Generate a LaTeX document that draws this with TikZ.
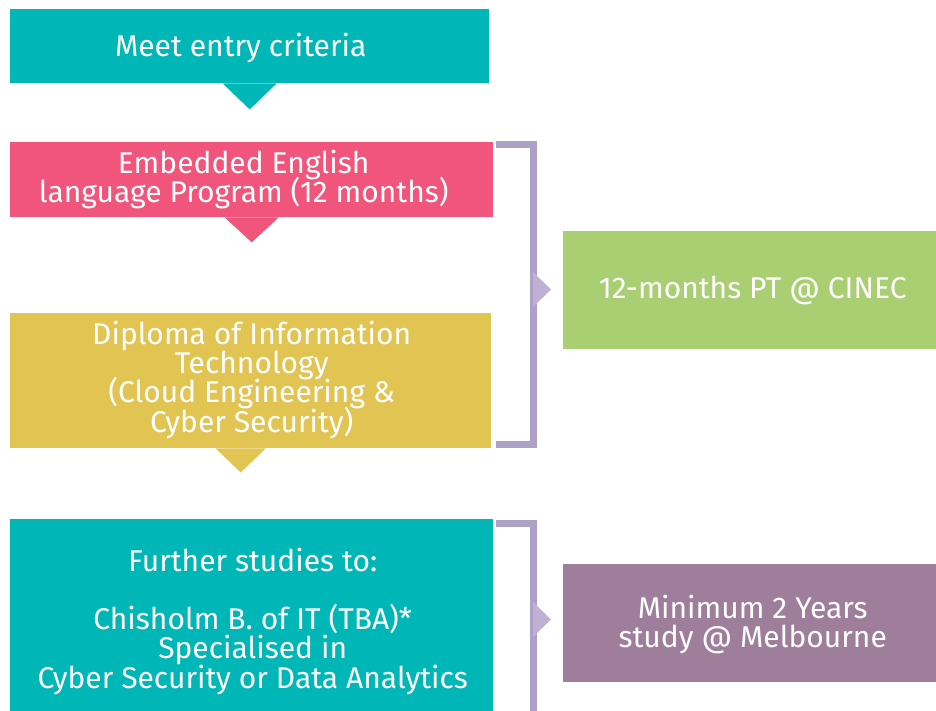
\documentclass[tikz,border=0pt]{standalone}
\usepackage{fontspec}
\setmainfont{Fira Sans}
\definecolor{tealc}{HTML}{00B6B6}
\definecolor{pinkc}{HTML}{F1557B}
\definecolor{yellowc}{HTML}{E2C453}
\definecolor{greenc}{HTML}{AACE72}
\definecolor{purplec}{HTML}{9E7E9B}
\definecolor{bracketc}{HTML}{ADA2C5}
\definecolor{pointerc}{HTML}{BFB1D6}
\newcommand\labfont{\fontsize{30}{29.3}\selectfont\lineskiplimit=-100pt\relax\lineskip=0pt\relax}
\begin{document}
\begin{tikzpicture}[x=1pt,y=-1pt,
  box/.style={anchor=north west, inner sep=0pt, fill=#1},
  label/.style={text=white, align=center, inner sep=0pt, font=\labfont},
  bracketline/.style={draw=bracketc, line width=7pt},
  pointer/.style={fill=pointerc}]
\useasboundingbox (0,0) rectangle (936,711);
\fill[white] (0,0) rectangle (936,711);
% left column
\node[box=tealc, minimum width=479pt, minimum height=74pt] (entry) at (10,9) {};
\node[label] (entryt) at ([xshift=-9pt,yshift=-2pt]entry.center) {Meet entry criteria};
\node[box=pinkc, minimum width=483pt, minimum height=75pt] (english) at (10,142) {};
\node[label] (englisht) at ([xshift=-8pt]english.center) {Embedded English\\language Program (12 months)};
\node[box=yellowc, minimum width=481pt, minimum height=135pt] (diploma) at (10,313) {};
\node[label] (diplomat) at ([xshift=1pt,yshift=1pt]diploma.center) {Diploma of Information\\Technology\\(Cloud Engineering \&\\Cyber Security)};
\node[box=tealc, minimum width=483pt, minimum height=192pt] (further) at (10,519) {};
\node[label] (furthert) at ([xshift=1pt,yshift=-6pt]further.center) {Further studies to:\\[29pt]Chisholm B. of IT (TBA)*\\Specialised in\\Cyber Security or Data Analytics};
% down pointers
\fill[tealc] ([xshift=-27pt]entry.south) -- ([xshift=27pt]entry.south) -- ([yshift=-26pt]entry.south) -- cycle;
\fill[pinkc] ([xshift=-27pt]english.south) -- ([xshift=27pt]english.south) -- ([yshift=-25pt]english.south) -- cycle;
\fill[yellowc] ([xshift=-35pt]diploma.south) -- ([xshift=15pt]diploma.south) -- ([xshift=-10pt,yshift=-24pt]diploma.south) -- cycle;
% right column
\node[box=greenc, minimum width=373pt, minimum height=118pt] (cinec) at (563,231) {};
\node[label] (cinect) at ([xshift=3pt]cinec.center) {12-months PT @ CINEC};
\node[box=purplec, minimum width=373pt, minimum height=118pt] (melb) at (563,564) {};
\node[label] (melbt) at ([xshift=3pt,yshift=-1pt]melb.center) {Minimum 2 Years\\study @ Melbourne};
% brackets
\coordinate (b1a) at (496,144.5);
\coordinate (b1b) at (533,144.5);
\coordinate (b1c) at (533,444.5);
\coordinate (b1d) at (496,444.5);
\draw[bracketline] (b1a) -- (b1b) -- (b1c) -- (b1d);
\coordinate (b2a) at (496,523.5);
\coordinate (b2b) at (533,523.5);
\coordinate (b2c) at (533,711);
\draw[bracketline] (b2a) -- (b2b) -- (b2c);
% side pointers
\coordinate (p1) at (533,289.5);
\fill[pointer] ([yshift=17.5pt]p1) -- ([xshift=18pt]p1) -- ([yshift=-17.5pt]p1) -- cycle;
\coordinate (p2) at (533,619.5);
\fill[pointer] ([yshift=17.5pt]p2) -- ([xshift=18pt]p2) -- ([yshift=-17.5pt]p2) -- cycle;
\end{tikzpicture}
\end{document}
